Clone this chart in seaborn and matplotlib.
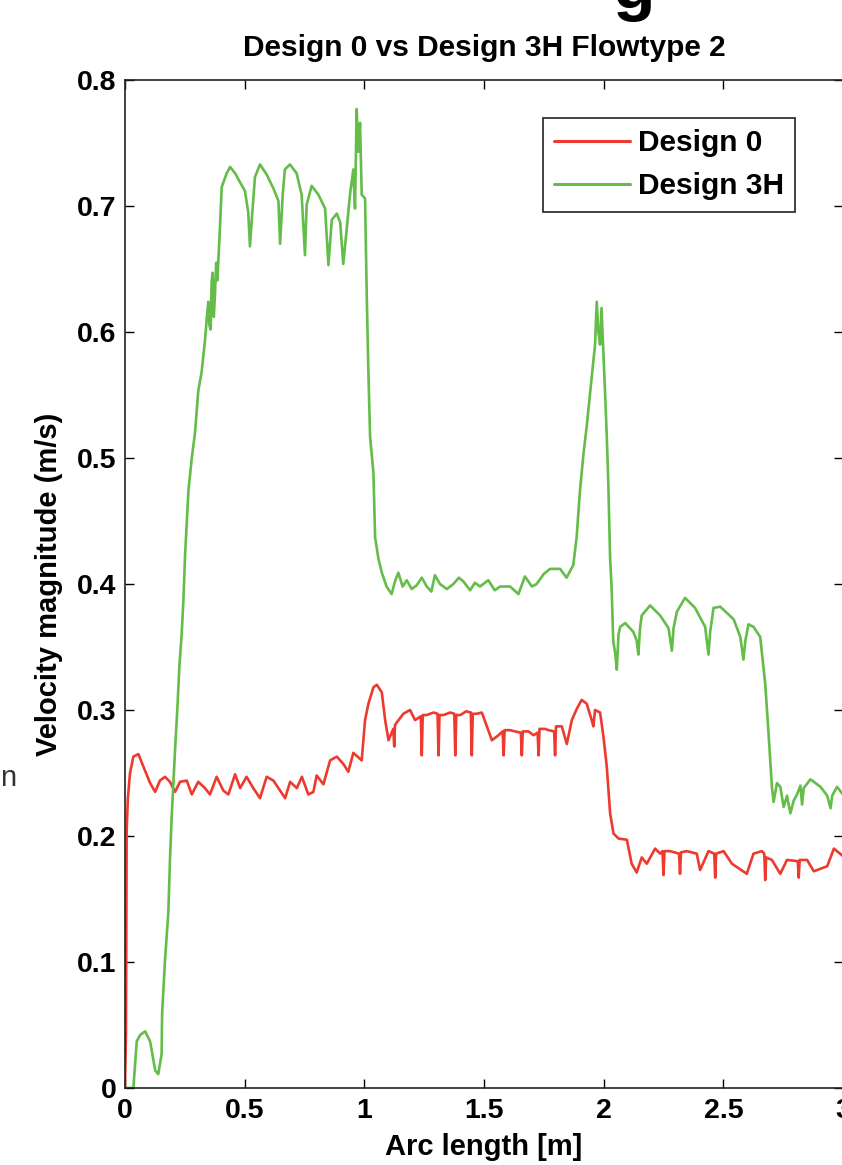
import matplotlib
matplotlib.use("Agg")
import matplotlib.pyplot as plt
import seaborn as sns
import pandas as pd

# ---------------- data ----------------
d0_x = [0.000, 0.004, 0.007, 0.012, 0.021, 0.035, 0.056, 0.077, 0.105, 0.126, 0.146, 0.167,
        0.188, 0.209, 0.230, 0.258, 0.279, 0.306, 0.334, 0.355, 0.383, 0.411, 0.432, 0.460,
        0.481, 0.508, 0.536, 0.564, 0.592, 0.620, 0.641, 0.669, 0.690, 0.718, 0.739, 0.766,
        0.787, 0.801, 0.829, 0.857, 0.885, 0.913, 0.933, 0.954, 0.989, 1.003, 1.017, 1.038,
        1.052, 1.073, 1.087, 1.101, 1.121, 1.125, 1.128, 1.135, 1.163, 1.191, 1.212, 1.236,
        1.240, 1.244, 1.261, 1.289, 1.306, 1.310, 1.314, 1.331, 1.359, 1.376, 1.380, 1.384,
        1.401, 1.426, 1.445, 1.449, 1.453, 1.470, 1.491, 1.512, 1.533, 1.554, 1.578, 1.582,
        1.586, 1.609, 1.630, 1.654, 1.658, 1.662, 1.686, 1.707, 1.724, 1.728, 1.732, 1.755,
        1.770, 1.793, 1.797, 1.801, 1.825, 1.846, 1.867, 1.888, 1.908, 1.929, 1.950, 1.957,
        1.964, 1.985, 1.999, 2.013, 2.027, 2.041, 2.062, 2.097, 2.117, 2.138, 2.159, 2.180,
        2.215, 2.236, 2.246, 2.250, 2.254, 2.277, 2.315, 2.319, 2.323, 2.347, 2.389, 2.403,
        2.438, 2.462, 2.466, 2.470, 2.501, 2.536, 2.598, 2.626, 2.661, 2.671, 2.675, 2.679,
        2.703, 2.738, 2.766, 2.811, 2.815, 2.819, 2.850, 2.878, 2.934, 2.962, 3.000]
d0_y = [0.000, 0.044, 0.205, 0.230, 0.250, 0.263, 0.265, 0.255, 0.242, 0.235, 0.244, 0.247,
        0.243, 0.235, 0.243, 0.244, 0.233, 0.243, 0.238, 0.233, 0.247, 0.236, 0.233, 0.249,
        0.238, 0.247, 0.238, 0.230, 0.247, 0.244, 0.238, 0.230, 0.243, 0.238, 0.247, 0.233,
        0.235, 0.248, 0.241, 0.260, 0.263, 0.257, 0.251, 0.266, 0.260, 0.292, 0.305, 0.318,
        0.320, 0.314, 0.292, 0.276, 0.285, 0.271, 0.288, 0.290, 0.297, 0.300, 0.292, 0.295,
        0.264, 0.296, 0.296, 0.298, 0.297, 0.264, 0.296, 0.296, 0.298, 0.297, 0.264, 0.296,
        0.296, 0.299, 0.298, 0.264, 0.297, 0.297, 0.298, 0.287, 0.276, 0.279, 0.283, 0.264,
        0.284, 0.284, 0.283, 0.282, 0.264, 0.283, 0.283, 0.280, 0.282, 0.264, 0.285, 0.285,
        0.284, 0.283, 0.264, 0.287, 0.287, 0.273, 0.292, 0.301, 0.308, 0.305, 0.292, 0.287,
        0.300, 0.298, 0.279, 0.255, 0.218, 0.202, 0.198, 0.197, 0.178, 0.171, 0.183, 0.178,
        0.190, 0.186, 0.188, 0.169, 0.188, 0.188, 0.186, 0.170, 0.187, 0.188, 0.186, 0.173,
        0.188, 0.186, 0.167, 0.186, 0.188, 0.178, 0.170, 0.186, 0.188, 0.186, 0.165, 0.183,
        0.181, 0.170, 0.181, 0.180, 0.167, 0.181, 0.181, 0.172, 0.176, 0.190, 0.184]

d3h_x = [0.000, 0.035, 0.049, 0.063, 0.084, 0.105, 0.126, 0.139, 0.153, 0.155, 0.167, 0.174,
         0.181, 0.188, 0.195, 0.209, 0.219, 0.227, 0.237, 0.244, 0.251, 0.265, 0.279, 0.292,
         0.306, 0.320, 0.334, 0.344, 0.348, 0.353, 0.358, 0.362, 0.366, 0.371, 0.376, 0.381,
         0.386, 0.397, 0.404, 0.425, 0.439, 0.460, 0.480, 0.501, 0.515, 0.522, 0.532, 0.543,
         0.564, 0.592, 0.620, 0.641, 0.648, 0.659, 0.668, 0.689, 0.717, 0.738, 0.752, 0.759,
         0.780, 0.808, 0.836, 0.850, 0.864, 0.885, 0.899, 0.912, 0.926, 0.940, 0.954, 0.961,
         0.968, 0.975, 0.982, 0.989, 1.003, 1.010, 1.017, 1.024, 1.038, 1.045, 1.059, 1.073,
         1.093, 1.114, 1.128, 1.142, 1.160, 1.177, 1.198, 1.219, 1.240, 1.261, 1.280, 1.295,
         1.316, 1.345, 1.372, 1.395, 1.414, 1.442, 1.462, 1.483, 1.518, 1.545, 1.567, 1.609,
         1.644, 1.671, 1.700, 1.720, 1.750, 1.776, 1.818, 1.845, 1.873, 1.887, 1.901, 1.915,
         1.929, 1.943, 1.964, 1.971, 1.978, 1.985, 1.991, 2.006, 2.013, 2.019, 2.027, 2.033,
         2.040, 2.048, 2.055, 2.062, 2.069, 2.090, 2.124, 2.138, 2.145, 2.152, 2.159, 2.194,
         2.236, 2.271, 2.285, 2.292, 2.306, 2.340, 2.382, 2.424, 2.438, 2.445, 2.459, 2.487,
         2.543, 2.571, 2.584, 2.592, 2.605, 2.626, 2.654, 2.675, 2.689, 2.703, 2.710, 2.724,
         2.738, 2.752, 2.766, 2.780, 2.794, 2.808, 2.822, 2.829, 2.836, 2.864, 2.906, 2.934,
         2.948, 2.955, 2.975, 3.000]
d3h_y = [0.000, 0.000, 0.037, 0.042, 0.045, 0.037, 0.014, 0.011, 0.027, 0.059, 0.101, 0.120,
         0.139, 0.182, 0.215, 0.268, 0.302, 0.334, 0.361, 0.387, 0.423, 0.474, 0.500, 0.519,
         0.553, 0.568, 0.593, 0.616, 0.624, 0.605, 0.602, 0.640, 0.647, 0.612, 0.630, 0.655,
         0.641, 0.684, 0.715, 0.726, 0.731, 0.726, 0.719, 0.712, 0.695, 0.668, 0.695, 0.723,
         0.733, 0.725, 0.714, 0.704, 0.670, 0.709, 0.729, 0.733, 0.726, 0.709, 0.661, 0.701,
         0.716, 0.709, 0.698, 0.653, 0.689, 0.694, 0.687, 0.654, 0.681, 0.709, 0.729, 0.698,
         0.777, 0.743, 0.766, 0.709, 0.706, 0.630, 0.568, 0.517, 0.488, 0.437, 0.420, 0.409,
         0.398, 0.392, 0.402, 0.409, 0.398, 0.403, 0.396, 0.399, 0.405, 0.398, 0.394, 0.407,
         0.400, 0.396, 0.400, 0.405, 0.402, 0.395, 0.401, 0.398, 0.403, 0.395, 0.398, 0.398,
         0.392, 0.406, 0.398, 0.400, 0.408, 0.412, 0.412, 0.405, 0.415, 0.437, 0.474, 0.502,
         0.525, 0.551, 0.590, 0.624, 0.600, 0.590, 0.619, 0.551, 0.517, 0.483, 0.420, 0.398,
         0.355, 0.345, 0.332, 0.360, 0.366, 0.369, 0.362, 0.355, 0.344, 0.365, 0.375, 0.383,
         0.375, 0.365, 0.347, 0.365, 0.378, 0.389, 0.381, 0.366, 0.344, 0.362, 0.381, 0.382,
         0.372, 0.358, 0.340, 0.355, 0.368, 0.366, 0.358, 0.321, 0.281, 0.239, 0.227, 0.242,
         0.239, 0.223, 0.232, 0.218, 0.228, 0.233, 0.240, 0.225, 0.238, 0.245, 0.239, 0.232,
         0.222, 0.232, 0.239, 0.233]

series_names = ["Design 0", "Design 3H"]
series_colors = ["#EE3A2E", "#63BD48"]

x_ticks = [0, 0.5, 1, 1.5, 2, 2.5, 3]
x_tick_labels = ["0", "0.5", "1", "1.5", "2", "2.5", "3"]
y_ticks = [0, 0.1, 0.2, 0.3, 0.4, 0.5, 0.6, 0.7, 0.8]
y_tick_labels = ["0", "0.1", "0.2", "0.3", "0.4", "0.5", "0.6", "0.7", "0.8"]

title_text = "Design 0 vs Design 3H Flowtype 2"
x_label = "Arc length [m]"
y_label = "Velocity magnitude (m/s)"

# ---------------- figure ----------------
sns.set_style("ticks")
plt.rcParams["font.family"] = ["Liberation Sans", "DejaVu Sans"]
plt.rcParams["font.weight"] = "bold"
plt.rcParams["text.color"] = "black"
plt.rcParams["axes.labelcolor"] = "black"
plt.rcParams["xtick.color"] = "black"
plt.rcParams["ytick.color"] = "black"

W, H = 842, 1165
fig = plt.figure(figsize=(W / 100, H / 100), dpi=100)
ax = fig.add_axes([125 / W, (H - 1088) / H, 718 / W, 1008 / H])

df = pd.concat([
    pd.DataFrame({"x": d0_x, "y": d0_y, "series": series_names[0]}),
    pd.DataFrame({"x": d3h_x, "y": d3h_y, "series": series_names[1]}),
], ignore_index=True)

sns.lineplot(data=df, x="x", y="y", hue="series", palette=dict(zip(series_names, series_colors)),
             sort=False, estimator=None, linewidth=1.9, ax=ax)

ax.set_xlim(0, 3)
ax.set_ylim(0, 0.8)
ax.set_xticks(x_ticks)
ax.set_xticklabels(x_tick_labels)
ax.set_yticks(y_ticks)
ax.set_yticklabels(y_tick_labels)
ax.tick_params(direction="in", length=6.5, width=1.0, top=True, right=True,
               labelsize=20.5, colors="black")
ax.tick_params(axis="x", pad=7)
ax.tick_params(axis="y", pad=6)
for lab in ax.get_xticklabels() + ax.get_yticklabels():
    lab.set_fontweight("bold")
    lab.set_color("black")
for s in ax.spines.values():
    s.set_visible(True)
    s.set_linewidth(1.2)
    s.set_color("#222222")

ax.set_xlabel(x_label, fontsize=21, fontweight="bold", labelpad=7, color="black")
ax.set_ylabel(y_label, fontsize=21, fontweight="bold", labelpad=10, color="black")
ax.set_title(title_text, fontsize=21.5, fontweight="bold", pad=17, color="black")

leg = ax.legend(loc="upper left", bbox_to_anchor=((543 - 125) / 718, (1088 - 118) / 1008),
                borderaxespad=0, frameon=True, fancybox=False, framealpha=1,
                edgecolor="#222222", handlelength=2.55, handletextpad=0.25,
                borderpad=0.38, labelspacing=0.5, prop={"weight": "bold", "size": 21.5})
leg.get_frame().set_linewidth(1.2)
for line in leg.get_lines():
    line.set_linewidth(2.2)
for t in leg.get_texts():
    t.set_color("black")

# fragments of surrounding page text cut by the crop
fig.text(633 / W, 1 - 8 / H, "g", fontsize=50, fontweight="bold", ha="center", va="baseline",
         color="black")
fig.text(16 / W, 1 - 786 / H, "n", fontsize=21, fontweight="normal", ha="right",
         va="baseline", color="#333333")

fig.savefig("out.png", dpi=100)
